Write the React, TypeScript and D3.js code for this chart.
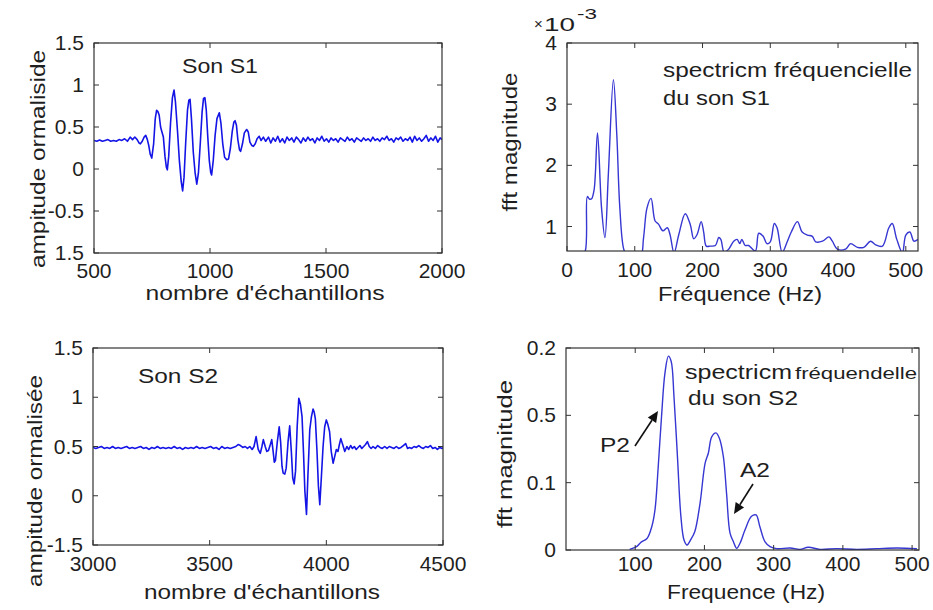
import React from "react";
import * as d3 from "d3";

const FONT = "'Liberation Sans', Arial, Helvetica, sans-serif";
const TXT = "#1e1e1e";

// ---------- Data ----------
// Son S1 : [sample, normalised amplitude]
const s1Signal: [number, number][] = [
  [500, 0.34], [512, 0.33], [524, 0.345], [536, 0.33], [548, 0.34], [560, 0.35], [572, 0.33], [584, 0.34],
  [596, 0.33], [608, 0.35], [620, 0.34], [632, 0.36], [644, 0.33], [656, 0.38], [666, 0.35], [676, 0.38],
  [686, 0.35], [694, 0.31], [700, 0.30], [708, 0.33], [716, 0.38], [723, 0.40], [730, 0.35], [736, 0.28],
  [742, 0.18], [749, 0.13], [757, 0.30], [764, 0.60], [770, 0.70], [776, 0.68], [781, 0.64], [787, 0.50],
  [792, 0.45], [799, 0.38], [806, 0.15], [812, 0.02], [816, -0.01], [822, 0.15], [830, 0.55], [838, 0.85],
  [845, 0.94], [851, 0.80], [860, 0.45], [868, 0.10], [876, -0.15], [882, -0.26], [888, -0.10], [895, 0.30],
  [903, 0.70], [909, 0.82], [914, 0.83], [920, 0.60], [928, 0.20], [936, -0.05], [943, -0.18], [950, -0.05],
  [958, 0.30], [966, 0.68], [972, 0.84], [978, 0.85], [984, 0.70], [990, 0.40], [997, 0.10], [1003, -0.04],
  [1007, -0.07], [1014, 0.10], [1022, 0.40], [1030, 0.60], [1040, 0.67], [1047, 0.55], [1055, 0.30],
  [1063, 0.14], [1072, 0.11], [1080, 0.12], [1088, 0.25], [1096, 0.45], [1103, 0.56], [1108, 0.575],
  [1114, 0.52], [1120, 0.35], [1127, 0.23], [1132, 0.21], [1140, 0.30], [1148, 0.43], [1158, 0.47],
  [1165, 0.44], [1172, 0.32], [1180, 0.28], [1187, 0.27], [1195, 0.30], [1203, 0.36], [1212, 0.39],
  [1220, 0.34], [1230, 0.38], [1240, 0.33], [1252, 0.38], [1262, 0.31], [1272, 0.37], [1282, 0.33],
  [1292, 0.39], [1302, 0.32], [1312, 0.36], [1322, 0.31], [1332, 0.38], [1342, 0.34], [1352, 0.37],
  [1362, 0.32], [1372, 0.38], [1382, 0.35], [1392, 0.31], [1402, 0.37], [1412, 0.33], [1422, 0.38],
  [1432, 0.34], [1442, 0.36], [1452, 0.31], [1462, 0.37], [1472, 0.34], [1482, 0.39], [1492, 0.33],
  [1502, 0.36], [1512, 0.32], [1522, 0.37], [1532, 0.34], [1542, 0.36], [1552, 0.32], [1562, 0.37],
  [1572, 0.35], [1582, 0.33], [1592, 0.38], [1602, 0.34], [1612, 0.36], [1622, 0.32], [1632, 0.37],
  [1642, 0.35], [1652, 0.33], [1662, 0.37], [1672, 0.34], [1682, 0.36], [1692, 0.33], [1702, 0.38],
  [1712, 0.34], [1722, 0.36], [1732, 0.33], [1742, 0.37], [1752, 0.35], [1762, 0.39], [1772, 0.34],
  [1782, 0.36], [1792, 0.32], [1802, 0.37], [1812, 0.35], [1822, 0.38], [1832, 0.33], [1842, 0.36],
  [1852, 0.34], [1862, 0.38], [1872, 0.32], [1882, 0.39], [1892, 0.34], [1902, 0.37], [1912, 0.33],
  [1922, 0.36], [1932, 0.40], [1942, 0.33], [1952, 0.37], [1962, 0.34], [1972, 0.39], [1982, 0.32],
  [1992, 0.37], [2000, 0.35],
];

// Son S2 : [sample, normalised amplitude]
const s2Signal: [number, number][] = [
  [3000, 0.49], [3012, 0.48], [3024, 0.49], [3036, 0.50], [3048, 0.48], [3060, 0.49], [3072, 0.48],
  [3084, 0.50], [3096, 0.48], [3108, 0.49], [3120, 0.48], [3132, 0.49], [3144, 0.50], [3156, 0.48],
  [3168, 0.49], [3180, 0.48], [3192, 0.49], [3204, 0.50], [3216, 0.48], [3228, 0.49], [3240, 0.47],
  [3252, 0.49], [3264, 0.48], [3276, 0.50], [3288, 0.48], [3300, 0.49], [3312, 0.48], [3324, 0.49],
  [3336, 0.48], [3348, 0.50], [3360, 0.48], [3372, 0.49], [3384, 0.47], [3396, 0.49], [3408, 0.48],
  [3420, 0.49], [3432, 0.48], [3444, 0.50], [3456, 0.48], [3468, 0.49], [3480, 0.48], [3492, 0.49],
  [3504, 0.50], [3516, 0.48], [3528, 0.49], [3540, 0.47], [3552, 0.50], [3564, 0.48], [3576, 0.49],
  [3588, 0.48], [3600, 0.49], [3612, 0.50], [3622, 0.52], [3632, 0.51], [3642, 0.49], [3652, 0.50],
  [3662, 0.48], [3672, 0.50], [3682, 0.47], [3690, 0.50], [3699, 0.60], [3708, 0.47], [3717, 0.43],
  [3724, 0.50], [3730, 0.57], [3738, 0.50], [3745, 0.45], [3752, 0.46], [3760, 0.52], [3766, 0.57],
  [3772, 0.45], [3777, 0.34], [3782, 0.36], [3790, 0.55], [3798, 0.70], [3804, 0.55], [3810, 0.30],
  [3815, 0.23], [3822, 0.22], [3828, 0.28], [3836, 0.55], [3843, 0.71], [3850, 0.45], [3856, 0.18],
  [3862, 0.12], [3868, 0.25], [3875, 0.70], [3882, 0.99], [3889, 0.93], [3896, 0.80], [3902, 0.45],
  [3908, 0.05], [3915, -0.19], [3921, 0.20], [3929, 0.67], [3936, 0.80], [3943, 0.88], [3948, 0.85],
  [3953, 0.78], [3960, 0.45], [3966, 0.10], [3972, -0.09], [3979, 0.20], [3986, 0.50], [3993, 0.70],
  [4000, 0.77], [4007, 0.72], [4014, 0.65], [4021, 0.45], [4029, 0.33], [4036, 0.40], [4043, 0.47],
  [4050, 0.45], [4056, 0.52], [4062, 0.58], [4070, 0.52], [4079, 0.45], [4088, 0.50], [4096, 0.47],
  [4104, 0.51], [4112, 0.48], [4120, 0.50], [4128, 0.47], [4136, 0.49], [4144, 0.51], [4152, 0.48],
  [4160, 0.50], [4168, 0.52], [4176, 0.55], [4184, 0.50], [4192, 0.48], [4200, 0.50], [4210, 0.48],
  [4220, 0.51], [4230, 0.49], [4240, 0.48], [4250, 0.50], [4260, 0.48], [4270, 0.50], [4280, 0.49],
  [4290, 0.48], [4300, 0.50], [4310, 0.48], [4320, 0.49], [4330, 0.51], [4340, 0.53], [4348, 0.48],
  [4356, 0.49], [4366, 0.48], [4376, 0.50], [4386, 0.49], [4396, 0.51], [4406, 0.49], [4416, 0.48],
  [4426, 0.50], [4436, 0.49], [4446, 0.51], [4456, 0.48], [4466, 0.49], [4476, 0.47], [4486, 0.49],
  [4496, 0.48], [4500, 0.49],
];

// FFT of S1 : [Hz, magnitude x 1e-3]
const fftS1: [number, number][] = [
  [19, 0.45], [27, 0.6], [30, 1.49], [33, 1.45], [36, 1.45], [40, 1.6], [45, 2.53], [51, 1.3], [56, 0.82],
  [61, 1.85], [68.5, 3.4], [73.5, 2.5], [78, 1.3], [84, 0.62], [90, 0.5], [108, 0.5], [113, 0.82],
  [118, 1.3], [124, 1.46], [130, 1.09], [135, 1.04], [141.5, 0.93], [148, 0.98], [152, 0.87], [158, 0.57],
  [165, 0.87], [174.5, 1.21], [182, 1.03], [187, 0.8], [192, 0.87], [198, 1.08], [201.7, 0.91],
  [205.6, 0.68], [211.5, 0.68], [219, 0.69], [224, 0.82], [227, 0.79], [232, 0.58], [238.6, 0.63],
  [246, 0.76], [251, 0.79], [255, 0.72], [258, 0.79], [263, 0.69], [268, 0.69], [278, 0.6], [283, 0.89],
  [289.5, 0.84], [295, 0.72], [300, 0.75], [306, 1.05], [310, 0.98], [317.6, 0.58], [325, 0.75],
  [331, 0.91], [340, 1.08], [347, 0.91], [354.6, 0.86], [362, 0.84], [367, 0.75], [377, 0.76],
  [386.6, 0.83], [391.6, 0.76], [399, 0.63], [411, 0.63], [418.6, 0.72], [428.6, 0.66], [438, 0.66],
  [448, 0.76], [455.6, 0.7], [465.5, 0.68], [475, 0.98], [480, 1.05], [486.7, 0.79], [495, 0.57],
  [500, 0.86], [506, 0.91], [512, 0.76], [518, 0.79],
];

// FFT of S2 : [Hz, magnitude]
const fftS2: [number, number][] = [
  [92, 0.001], [102, 0.005], [109, 0.012], [117, 0.017], [124, 0.035], [128.6, 0.06], [133, 0.12],
  [138, 0.198], [143, 0.263], [148, 0.288], [152, 0.28], [156, 0.228], [161, 0.139], [166, 0.05],
  [170.5, 0.015], [175, 0.0075], [180, 0.015], [186, 0.027], [193.6, 0.069], [201, 0.129], [205.7, 0.144],
  [210.5, 0.168], [216.7, 0.174], [221.6, 0.166], [227.3, 0.139], [232, 0.084], [237, 0.025], [242, 0.012],
  [246.6, 0.0025], [251.4, 0.01], [258.7, 0.03], [268, 0.05], [274.6, 0.052], [280, 0.035], [287.6, 0.012],
  [294.8, 0.005], [304.5, 0.002], [323.7, 0.003], [338, 0.001], [350, 0.004], [367, 0.001], [391, 0.002],
  [420, 0.001], [449, 0.002], [478, 0.003], [507, 0.002],
];

// Tick values & labels (as printed on the original figure)
const p1XTicks = [500, 1000, 1500, 2000];
const p1YTicks = [-1, -0.5, 0, 0.5, 1, 1.5];
const p1YLabels = ["1.5", "-0.5", "0", "0.5", "1", "1.5"];
const p2XTicks = [0, 100, 200, 300, 400, 500];
const p2YTicks = [1, 2, 3, 4];
const p2YLabels = ["1", "2", "3", "4"];
const p3XTicks = [3000, 3500, 4000, 4500];
const p3YTicks = [-0.5, 0, 0.5, 1, 1.5];
const p3YLabels = ["-1.5", "0", "0.5", "1", "1.5"];
const p4XTicks = [100, 200, 300, 400, 500];
const p4YTicks = [0, 0.1, 0.2, 0.3];
const p4YLabels = ["0", "0.1", "0.5", "0.2"];

type Box = { l: number; r: number; t: number; b: number };

function T(props: {
  x: number; y: number; w?: number; size?: number; anchor?: string; rot?: boolean; children: any;
}) {
  const { x, y, w, size = 20, anchor = "start", rot = false, children } = props;
  return (
    <text
      x={x}
      y={y}
      fontSize={size}
      fontFamily={FONT}
      fill={TXT}
      textAnchor={anchor}
      textLength={w}
      lengthAdjust={w ? "spacingAndGlyphs" : undefined}
      transform={rot ? `rotate(-90 ${x} ${y})` : undefined}
    >
      {children}
    </text>
  );
}

function Panel(props: {
  id: string;
  box: Box;
  xDomain: [number, number];
  yDomain: [number, number];
  xTicks: number[];
  yTicks: number[];
  yLabels: string[];
  data: [number, number][];
  color: string;
  width: number;
  smooth?: boolean;
  xLabelDy: number;
}) {
  const { id, box, xDomain, yDomain, xTicks, yTicks, yLabels, data, color, width, smooth, xLabelDy } = props;
  const x = d3.scaleLinear().domain(xDomain).range([box.l, box.r]);
  const y = d3.scaleLinear().domain(yDomain).range([box.b, box.t]);
  const line = d3
    .line<[number, number]>()
    .x((d) => x(d[0]))
    .y((d) => y(d[1]))
    .curve(smooth ? d3.curveCatmullRom.alpha(0.5) : d3.curveLinear);
  const tl = 5;
  const axisColor = "#333";
  return (
    <g>
      <defs>
        <clipPath id={id}>
          <rect x={box.l} y={box.t} width={box.r - box.l} height={box.b - box.t} />
        </clipPath>
      </defs>
      <path
        d={line(data) || ""}
        fill="none"
        stroke={color}
        strokeWidth={width}
        strokeLinejoin="round"
        clipPath={`url(#${id})`}
      />
      <rect
        x={box.l}
        y={box.t}
        width={box.r - box.l}
        height={box.b - box.t}
        fill="none"
        stroke={axisColor}
        strokeWidth={1.2}
      />
      {xTicks.map((v) => (
        <g key={"xt" + v}>
          <line x1={x(v)} x2={x(v)} y1={box.b} y2={box.b - tl} stroke={axisColor} />
          <line x1={x(v)} x2={x(v)} y1={box.t} y2={box.t + tl} stroke={axisColor} />
          <T x={x(v)} y={box.b + xLabelDy} size={21} anchor="middle">
            {String(v)}
          </T>
        </g>
      ))}
      {yTicks.map((v, i) => (
        <g key={"yt" + v}>
          <line x1={box.l} x2={box.l + tl} y1={y(v)} y2={y(v)} stroke={axisColor} />
          <line x1={box.r} x2={box.r - tl} y1={y(v)} y2={y(v)} stroke={axisColor} />
          <T x={box.l - 10} y={y(v) + 7} size={21} anchor="end">
            {yLabels[i]}
          </T>
        </g>
      ))}
    </g>
  );
}

function Arrow(props: { x1: number; y1: number; x2: number; y2: number }) {
  const { x1, y1, x2, y2 } = props;
  const a = Math.atan2(y2 - y1, x2 - x1);
  const L = 11;
  const W = 5;
  const bx = x2 - L * Math.cos(a);
  const by = y2 - L * Math.sin(a);
  const px = -Math.sin(a) * W;
  const py = Math.cos(a) * W;
  return (
    <g>
      <line x1={x1} y1={y1} x2={bx} y2={by} stroke="#111" strokeWidth={1.6} />
      <path d={`M${x2},${y2} L${bx + px},${by + py} L${bx - px},${by - py} Z`} fill="#111" />
    </g>
  );
}

export default function App() {
  return (
    <svg
      width={933}
      height={610}
      style={{ position: "absolute", left: 0, top: 0, background: "#fff" }}
    >
      <rect x={0} y={0} width={933} height={610} fill="#fff" />

      {/* Panel 1 */}
      <Panel
        id="c1"
        box={{ l: 94, r: 442, t: 43, b: 253 }}
        xDomain={[500, 2000]}
        yDomain={[-1, 1.5]}
        xTicks={p1XTicks}
        yTicks={p1YTicks}
        yLabels={p1YLabels}
        data={s1Signal}
        color="#1414e6"
        width={1.6}
        xLabelDy={25}
      />
      <T x={182} y={73} w={76}>Son S1</T>
      <T x={265} y={300} w={239} anchor="middle">nombre d'échantillons</T>
      <T x={45} y={159} w={218} anchor="middle" rot>ampitude ormaliside</T>

      {/* Panel 2 */}
      <Panel
        id="c2"
        box={{ l: 567, r: 918, t: 43, b: 251 }}
        xDomain={[0, 518]}
        yDomain={[0.6, 4]}
        xTicks={p2XTicks}
        yTicks={p2YTicks}
        yLabels={p2YLabels}
        data={fftS1}
        color="#3636d2"
        width={1.4}
        smooth
        xLabelDy={26}
      />
      <T x={534} y={29} size={15}>×</T>
      <T x={544} y={31} size={18} w={31}>10</T>
      <T x={577} y={19} size={14} w={20}>-3</T>
      <T x={663} y={77} w={249}>spectricm fréquencielle</T>
      <T x={663} y={105} w={107}>du son S1</T>
      <T x={740} y={301} w={164} anchor="middle">Fréquence (Hz)</T>
      <T x={517} y={142} w={139} anchor="middle" rot>fft magnitude</T>

      {/* Panel 3 */}
      <Panel
        id="c3"
        box={{ l: 93, r: 443, t: 348, b: 545 }}
        xDomain={[3000, 4500]}
        yDomain={[-0.5, 1.5]}
        xTicks={p3XTicks}
        yTicks={p3YTicks}
        yLabels={p3YLabels}
        data={s2Signal}
        color="#1414e6"
        width={1.6}
        xLabelDy={26}
      />
      <T x={138} y={383} w={80}>Son S2</T>
      <T x={262} y={599} w={236} anchor="middle">nombre d'échantillons</T>
      <T x={42} y={481} w={212} anchor="middle" rot>ampitude ormalisée</T>

      {/* Panel 4 */}
      <Panel
        id="c4"
        box={{ l: 566, r: 919, t: 348, b: 550 }}
        xDomain={[0, 510]}
        yDomain={[0, 0.3]}
        xTicks={p4XTicks}
        yTicks={p4YTicks}
        yLabels={p4YLabels}
        data={fftS2}
        color="#3636d2"
        width={1.4}
        smooth
        xLabelDy={21}
      />
      <T x={685} y={379} w={107}>spectricm</T>
      <T x={795} y={379} size={16} w={122}>fréquendelle</T>
      <T x={688} y={405} w={110}>du son S2</T>
      <T x={600} y={452} w={30}>P2</T>
      <T x={740} y={477} w={30}>A2</T>
      <Arrow x1={635} y1={446} x2={658} y2={411} />
      <Arrow x1={753} y1={484} x2={734} y2={514} />
      <T x={746} y={599} w={158} anchor="middle">Frequence (Hz)</T>
      <T x={512} y={454} w={148} anchor="middle" rot>fft magnitude</T>
    </svg>
  );
}
